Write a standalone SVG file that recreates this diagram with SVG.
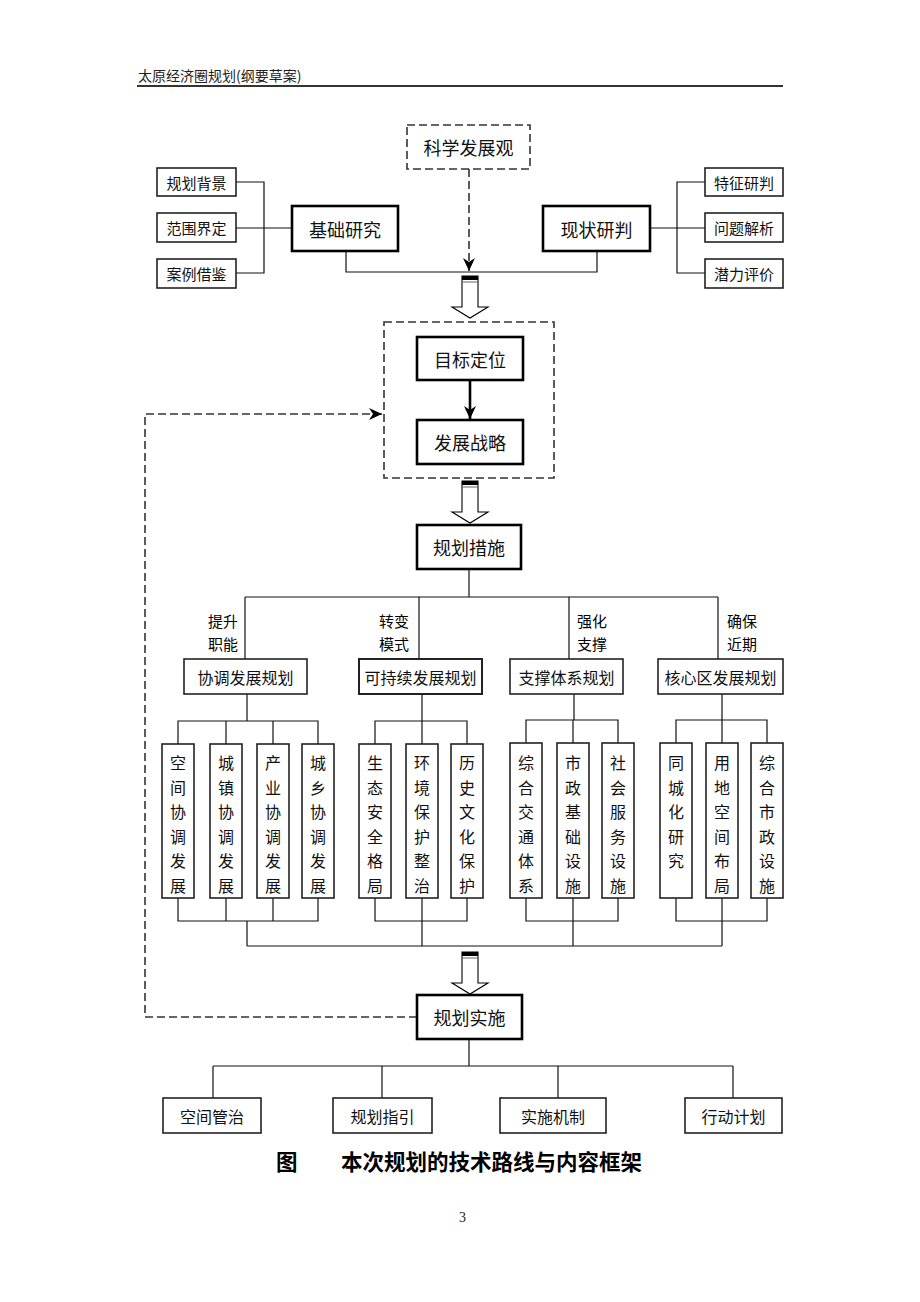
<svg xmlns="http://www.w3.org/2000/svg" width="920" height="1302" viewBox="0 0 920 1302">
<defs>
<style>
.ln{stroke:#111;stroke-width:1.2;fill:none}
.box{fill:#fff;stroke:#222;stroke-width:1.6}
.bbox{fill:#fff;stroke:#000;stroke-width:2.6}
.dash{fill:none;stroke:#333;stroke-width:1.6;stroke-dasharray:8 4}
.t{font-family:"Noto Sans CJK SC","Noto Sans CJK JP",sans-serif;fill:#111;text-anchor:middle;dominant-baseline:central}
.s15{font-size:15px}
.s16{font-size:16px}
.s17{font-size:18px}
.lbl{font-family:"Noto Sans CJK SC",sans-serif;font-size:15px;fill:#000;dominant-baseline:central}
.hol{fill:#fff;stroke:#000;stroke-width:1.1}
</style>
<marker id="ah" viewBox="-13 -7 14 14" markerWidth="14" markerHeight="14" refX="0" refY="0" orient="auto" markerUnits="userSpaceOnUse">
<path d="M0,0 L-13,-6 L-9,0 L-13,6 Z" fill="#000"/>
</marker>
<g id="hollow">
<path class="hol" d="M-8,0 L8,0 L8,31 L18,31 L0,42 L-18,31 L-8,31 Z"/>
<rect x="-8" y="0" width="16" height="4" fill="#000"/>
<line x1="-8" y1="6" x2="8" y2="6" stroke="#666" stroke-width="1"/>
</g>
</defs>
<rect width="920" height="1302" fill="#fff"/>

<g id="header">
<text x="138" y="75" class="lbl" style="font-size:14px;fill:#222">太原经济圈规划(纲要草案)</text>
<line x1="137" y1="86" x2="783" y2="86" stroke="#333" stroke-width="2"/>
</g>

<g id="connectors">
<path class="ln" d="M236,182 H264 V273 H236 M236,228 H292"/>
<path class="ln" d="M705,182 H677 V273 H705 M705,228 H650"/>
<path class="ln" d="M346,251 V272 H597 V251"/>
<line class="dash" x1="469" y1="169" x2="469" y2="271" marker-end="url(#ah)"/>
<line x1="470" y1="380" x2="470" y2="419" stroke="#000" stroke-width="2.6" marker-end="url(#ah)"/>
<path class="dash" d="M417,1017 H145 V414 H382" marker-end="url(#ah)"/>
<path class="ln" d="M469,569 V597 M245,597 H718 M245,597 V659 M419,597 V659 M569,597 V659 M718,597 V659"/>
<path class="ln" d="M247,694 V721 M178,744 V721 H318 V744 M226,721 V744 M273,721 V744"/>
<path class="ln" d="M178,898 V921 H318 V898 M226,898 V921 M273,898 V921 M247,921 V946"/>
<path class="ln" d="M422,694 V721 M375,744 V721 H467 V744 M422,721 V744"/>
<path class="ln" d="M375,898 V921 H467 V898 M422,898 V946"/>
<path class="ln" d="M574,694 V720 M526,743 V720 H618 V743 M573,720 V743"/>
<path class="ln" d="M526,898 V921 H618 V898 M573,898 V946"/>
<path class="ln" d="M722,694 V720 M676,743 V720 H767 V743 M722,720 V743"/>
<path class="ln" d="M676,898 V921 H767 V898 M722,898 V946"/>
<path class="ln" d="M247,946 H722"/>
<path class="ln" d="M469,1039 V1066 M213,1066 H733 M213,1066 V1098 M382,1066 V1098 M558,1066 V1098 M733,1066 V1098"/>
<use href="#hollow" x="470" y="276"/>
<use href="#hollow" x="470" y="481"/>
<use href="#hollow" x="470" y="952"/>
</g>

<g id="n-kexue"><rect class="dash" x="407" y="125" width="123" height="44"/><text class="t s17" x="468.5" y="147">科学发展观</text></g>
<g id="n-bg"><rect class="box" x="157" y="168" width="79" height="28"/><text class="t s15" x="196.5" y="182">规划背景</text></g>
<g id="n-range"><rect class="box" x="157" y="213" width="79" height="29"/><text class="t s15" x="196.5" y="227.5">范围界定</text></g>
<g id="n-case"><rect class="box" x="157" y="259" width="79" height="29"/><text class="t s15" x="196.5" y="273.5">案例借鉴</text></g>
<g id="n-jichu"><rect class="bbox" x="292" y="206" width="106" height="45"/><text class="t s17" x="345" y="228.5">基础研究</text></g>
<g id="n-xianzhuang"><rect class="bbox" x="543" y="206" width="107" height="45"/><text class="t s17" x="596.5" y="228.5">现状研判</text></g>
<g id="n-tezheng"><rect class="box" x="705" y="168" width="78" height="28"/><text class="t s15" x="744" y="182">特征研判</text></g>
<g id="n-wenti"><rect class="box" x="705" y="213" width="78" height="29"/><text class="t s15" x="744" y="227.5">问题解析</text></g>
<g id="n-qianli"><rect class="box" x="705" y="259" width="78" height="29"/><text class="t s15" x="744" y="273.5">潜力评价</text></g>

<g id="n-frame"><rect class="dash" x="384" y="322" width="170" height="156"/></g>
<g id="n-mubiao"><rect class="bbox" x="417" y="337" width="106" height="43"/><text class="t s17" x="470" y="358.5">目标定位</text></g>
<g id="n-zhanlue"><rect class="bbox" x="417" y="420" width="106" height="44"/><text class="t s17" x="470" y="442">发展战略</text></g>
<g id="n-cuoshi"><rect class="bbox" x="417" y="525" width="104" height="44"/><text class="t s17" x="469" y="547">规划措施</text></g>

<g id="labels">
<text class="lbl" x="238" y="620" text-anchor="end">提升</text>
<text class="lbl" x="238" y="643" text-anchor="end">职能</text>
<text class="lbl" x="409" y="620" text-anchor="end">转变</text>
<text class="lbl" x="409" y="643" text-anchor="end">模式</text>
<text class="lbl" x="577" y="620">强化</text>
<text class="lbl" x="577" y="643">支撑</text>
<text class="lbl" x="727" y="620">确保</text>
<text class="lbl" x="727" y="643">近期</text>
</g>

<g id="n-xietiao"><rect class="box" x="184" y="659" width="123" height="35"/><text class="t s16" x="245.5" y="676.5">协调发展规划</text></g>
<g id="n-kechixu"><rect class="box" x="359" y="659" width="123" height="35" style="stroke-width:2"/><text class="t s16" x="420.5" y="676.5">可持续发展规划</text></g>
<g id="n-zhicheng"><rect class="box" x="510" y="659" width="113" height="35"/><text class="t s16" x="566.5" y="676.5">支撑体系规划</text></g>
<g id="n-hexin"><rect class="box" x="658" y="659" width="125" height="35"/><text class="t s16" x="720.5" y="676.5">核心区发展规划</text></g>

<g id="n-v1"><rect class="box" x="162" y="744" width="32" height="154"/><text class="t s16" x="178" y="762"><tspan x="178">空</tspan><tspan x="178" dy="24.5">间</tspan><tspan x="178" dy="24.5">协</tspan><tspan x="178" dy="24.5">调</tspan><tspan x="178" dy="24.5">发</tspan><tspan x="178" dy="24.5">展</tspan></text></g>
<g id="n-v2"><rect class="box" x="210" y="744" width="32" height="154"/><text class="t s16" x="226" y="762"><tspan x="226">城</tspan><tspan x="226" dy="24.5">镇</tspan><tspan x="226" dy="24.5">协</tspan><tspan x="226" dy="24.5">调</tspan><tspan x="226" dy="24.5">发</tspan><tspan x="226" dy="24.5">展</tspan></text></g>
<g id="n-v3"><rect class="box" x="257" y="744" width="32" height="154"/><text class="t s16" x="273" y="762"><tspan x="273">产</tspan><tspan x="273" dy="24.5">业</tspan><tspan x="273" dy="24.5">协</tspan><tspan x="273" dy="24.5">调</tspan><tspan x="273" dy="24.5">发</tspan><tspan x="273" dy="24.5">展</tspan></text></g>
<g id="n-v4"><rect class="box" x="302" y="744" width="32" height="154"/><text class="t s16" x="318" y="762"><tspan x="318">城</tspan><tspan x="318" dy="24.5">乡</tspan><tspan x="318" dy="24.5">协</tspan><tspan x="318" dy="24.5">调</tspan><tspan x="318" dy="24.5">发</tspan><tspan x="318" dy="24.5">展</tspan></text></g>

<g id="n-v5"><rect class="box" x="359" y="744" width="32" height="154"/><text class="t s16" x="375" y="762"><tspan x="375">生</tspan><tspan x="375" dy="24.5">态</tspan><tspan x="375" dy="24.5">安</tspan><tspan x="375" dy="24.5">全</tspan><tspan x="375" dy="24.5">格</tspan><tspan x="375" dy="24.5">局</tspan></text></g>
<g id="n-v6"><rect class="box" x="406" y="744" width="32" height="154"/><text class="t s16" x="422" y="762"><tspan x="422">环</tspan><tspan x="422" dy="24.5">境</tspan><tspan x="422" dy="24.5">保</tspan><tspan x="422" dy="24.5">护</tspan><tspan x="422" dy="24.5">整</tspan><tspan x="422" dy="24.5">治</tspan></text></g>
<g id="n-v7"><rect class="box" x="451" y="744" width="32" height="154"/><text class="t s16" x="467" y="762"><tspan x="467">历</tspan><tspan x="467" dy="24.5">史</tspan><tspan x="467" dy="24.5">文</tspan><tspan x="467" dy="24.5">化</tspan><tspan x="467" dy="24.5">保</tspan><tspan x="467" dy="24.5">护</tspan></text></g>

<g id="n-v8"><rect class="box" x="510" y="743" width="32" height="155"/><text class="t s16" x="526" y="762"><tspan x="526">综</tspan><tspan x="526" dy="24.5">合</tspan><tspan x="526" dy="24.5">交</tspan><tspan x="526" dy="24.5">通</tspan><tspan x="526" dy="24.5">体</tspan><tspan x="526" dy="24.5">系</tspan></text></g>
<g id="n-v9"><rect class="box" x="557" y="743" width="32" height="155"/><text class="t s16" x="573" y="762"><tspan x="573">市</tspan><tspan x="573" dy="24.5">政</tspan><tspan x="573" dy="24.5">基</tspan><tspan x="573" dy="24.5">础</tspan><tspan x="573" dy="24.5">设</tspan><tspan x="573" dy="24.5">施</tspan></text></g>
<g id="n-v10"><rect class="box" x="602" y="743" width="32" height="155"/><text class="t s16" x="618" y="762"><tspan x="618">社</tspan><tspan x="618" dy="24.5">会</tspan><tspan x="618" dy="24.5">服</tspan><tspan x="618" dy="24.5">务</tspan><tspan x="618" dy="24.5">设</tspan><tspan x="618" dy="24.5">施</tspan></text></g>

<g id="n-v11"><rect class="box" x="660" y="743" width="32" height="155"/><text class="t s16" x="676" y="762"><tspan x="676">同</tspan><tspan x="676" dy="24.5">城</tspan><tspan x="676" dy="24.5">化</tspan><tspan x="676" dy="24.5">研</tspan><tspan x="676" dy="24.5">究</tspan></text></g>
<g id="n-v12"><rect class="box" x="706" y="743" width="32" height="155"/><text class="t s16" x="722" y="762"><tspan x="722">用</tspan><tspan x="722" dy="24.5">地</tspan><tspan x="722" dy="24.5">空</tspan><tspan x="722" dy="24.5">间</tspan><tspan x="722" dy="24.5">布</tspan><tspan x="722" dy="24.5">局</tspan></text></g>
<g id="n-v13"><rect class="box" x="751" y="743" width="32" height="155"/><text class="t s16" x="767" y="762"><tspan x="767">综</tspan><tspan x="767" dy="24.5">合</tspan><tspan x="767" dy="24.5">市</tspan><tspan x="767" dy="24.5">政</tspan><tspan x="767" dy="24.5">设</tspan><tspan x="767" dy="24.5">施</tspan></text></g>

<g id="n-shishi"><rect class="bbox" x="417" y="995" width="105" height="44"/><text class="t s17" x="469.5" y="1017">规划实施</text></g>

<g id="n-b1"><rect class="box" x="163" y="1098" width="98" height="35"/><text class="t s16" x="212" y="1115.5">空间管治</text></g>
<g id="n-b2"><rect class="box" x="333" y="1098" width="99" height="35"/><text class="t s16" x="382.5" y="1115.5">规划指引</text></g>
<g id="n-b3"><rect class="box" x="500" y="1098" width="106" height="35"/><text class="t s16" x="553" y="1115.5">实施机制</text></g>
<g id="n-b4"><rect class="box" x="685" y="1098" width="97" height="35"/><text class="t s16" x="733.5" y="1115.5">行动计划</text></g>

<g id="caption">
<text class="lbl" x="276" y="1160" style="font-size:21.5px;font-weight:bold">图</text>
<text class="lbl" x="341" y="1160" style="font-size:21.5px;font-weight:bold">本次规划的技术路线与内容框架</text>
</g>
<text x="459" y="1222" style="font-family:'Liberation Serif',serif;font-size:14px;fill:#222">3</text>
</svg>
